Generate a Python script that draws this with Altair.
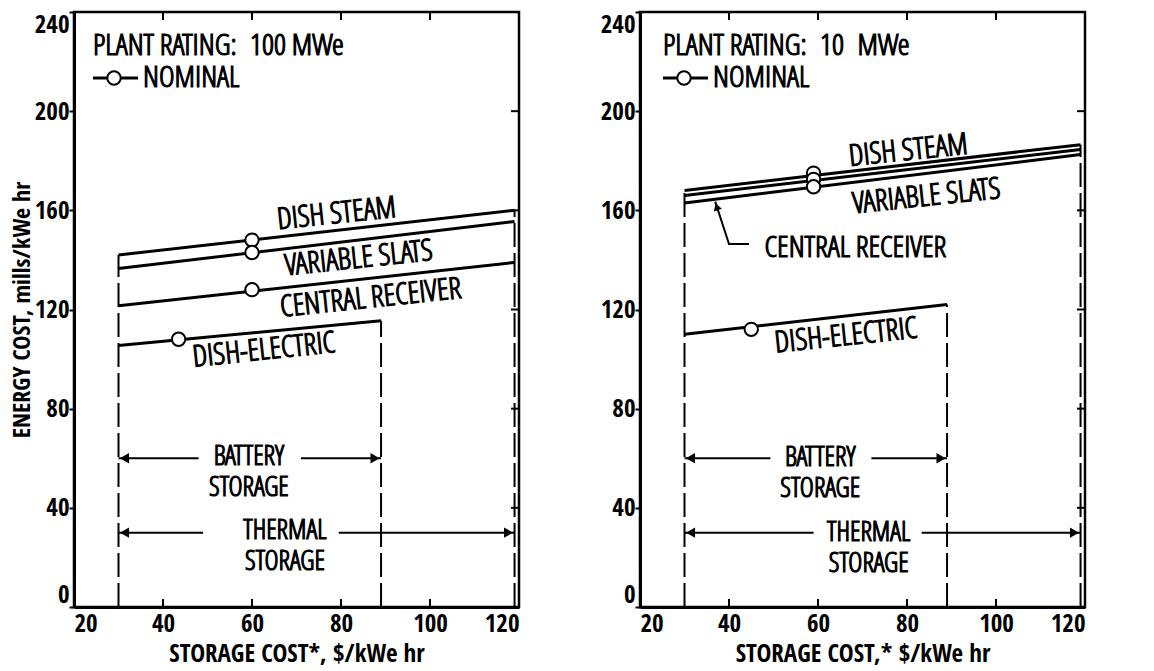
import altair as alt
import pandas as pd

AXIS_FONT = "Open Sans Condensed"
MARK_FONT = "Open Sans Condensed Light, Open Sans Condensed"

X_TICKS = [20, 40, 60, 80, 100, 120]
Y_TICKS = [0, 40, 80, 120, 160, 200, 240]
X_INNER_TICKS = [40, 60, 80, 100]
Y_INNER_TICKS = [40, 80, 120, 160, 200]

# ---------------- 100 MWe panel ----------------
L_SERIES = ["DISH STEAM", "VARIABLE SLATS", "CENTRAL RECEIVER", "DISH-ELECTRIC"]
L_X_START = [30, 30, 30, 30]
L_X_END = [119, 119, 119, 89]
L_Y_START = [142, 136.5, 121.5, 105.5]
L_Y_END = [160, 155.5, 139, 115.5]
L_NOM_X = [60, 60, 60, 43.5]
L_NOM_Y = [148, 143, 128, 108]
L_LIMIT_X = [30, 89, 119]
L_LIMIT_TOP = [142, 115.5, 160]
L_RANGE_TEXT = ["BATTERY\nSTORAGE", "THERMAL\nSTORAGE"]
L_RANGE_Y = [60, 30]
L_RANGE_FROM = [30, 30]
L_RANGE_TO = [89, 119]
L_GAP_FROM = [48, 49]
L_GAP_TO = [71, 79.5]
L_RANGE_TEXT_X = [59.3, 67.4]
L_RANGE_TEXT_Y = [60.5, 30.5]
L_ROT_LABELS = ["DISH STEAM", "VARIABLE SLATS", "CENTRAL RECEIVER", "DISH-ELECTRIC"]
L_ROT_X = [79, 84, 86.7, 62.7]
L_ROT_Y = [158.5, 140.5, 124.5, 103.5]

# ---------------- 10 MWe panel ----------------
R_SERIES = ["DISH STEAM", "CENTRAL RECEIVER", "VARIABLE SLATS", "DISH-ELECTRIC"]
R_X_START = [30, 30, 30, 30]
R_X_END = [119, 119, 119, 89]
R_Y_START = [168, 166, 163, 110]
R_Y_END = [186.5, 184.5, 182.5, 122]
R_NOM_X = [59, 59, 59, 45]
R_NOM_Y = [175, 172.5, 169.5, 112]
R_LIMIT_X = [30, 89, 119]
R_LIMIT_TOP = [168, 122, 186.5]
R_RANGE_TEXT = ["BATTERY\nSTORAGE", "THERMAL\nSTORAGE"]
R_RANGE_Y = [60, 30]
R_RANGE_FROM = [30, 30]
R_RANGE_TO = [89, 119]
R_GAP_FROM = [49.3, 59]
R_GAP_TO = [72, 83.3]
R_RANGE_TEXT_X = [60.5, 71.4]
R_RANGE_TEXT_Y = [60, 30]
R_ROT_LABELS = ["DISH STEAM", "VARIABLE SLATS", "DISH-ELECTRIC"]
R_ROT_X = [80.3, 84.4, 66.3]
R_ROT_Y = [184, 165.5, 109.3]
R_FLAT_LABELS = ["CENTRAL RECEIVER"]
R_FLAT_X = [68.4]
R_FLAT_Y = [144.8]
R_LEADER_X = [44.5, 40, 36.9]
R_LEADER_Y = [146.4, 146.4, 163.5]

W, H = 445, 595


def panel(series, xs, xe, ys, ye, nx, ny, limx, limtop, rtext, ry, rfrom, rto,
          gfrom, gto, rtx, rty, rot_lab, rot_x, rot_y, rating, x_title, y_title,
          lx, flat=None, leader=None):
    xsc = alt.Scale(domain=[20, 120], nice=False, zero=False)
    ysc = alt.Scale(domain=[0, 240], nice=False, zero=False)
    x_axis = alt.Axis(values=X_TICKS, title=x_title, tickSize=0, labelFlush=True,
                      labelFont=AXIS_FONT, labelFontSize=25, labelPadding=4,
                      labelColor="black", titleFont=AXIS_FONT, titleFontSize=25,
                      titleColor="black", titlePadding=5, domainColor="black",
                      domainWidth=3, grid=False)
    yargs = dict(values=Y_TICKS, tickSize=5, tickWidth=2, tickColor="black",
                 labelFlush=True, labelFont=AXIS_FONT, labelFontSize=25,
                 labelPadding=0, labelColor="black", domainColor="black",
                 domainWidth=3, grid=False)
    if y_title:
        y_axis = alt.Axis(title=y_title, titleFont=AXIS_FONT, titleFontSize=24,
                          titleColor="black", titlePadding=0, **yargs)
    else:
        y_axis = alt.Axis(title=None, **yargs)
    X = lambda f="x": alt.X(f + ":Q", scale=xsc, axis=x_axis)
    Y = lambda f="y": alt.Y(f + ":Q", scale=ysc, axis=y_axis)

    txt = dict(font=MARK_FONT, fontSize=30, color="black", stroke="black",
               strokeWidth=1.2, baseline="middle")
    rtxt = dict(txt, fontSize=27)

    lines_df = pd.DataFrame({"series": series + series, "x": xs + xe, "y": ys + ye})
    lines = alt.Chart(lines_df).mark_line(color="black", strokeWidth=3).encode(
        x=X(), y=Y(), detail="series:N")

    lim_df = pd.DataFrame({"x": limx, "y": [0] * len(limx), "y2": limtop})
    limits = alt.Chart(lim_df).mark_rule(color="black", strokeWidth=2,
                                         strokeDash=[24, 6]).encode(
        x=X(), y=Y(), y2="y2:Q")

    seg_df = pd.DataFrame({"x": rfrom + gto, "x2": gfrom + rto, "y": ry + ry})
    segs = alt.Chart(seg_df).mark_rule(color="black", strokeWidth=2).encode(
        x=X(), x2="x2:Q", y=Y())
    head_l = alt.Chart(pd.DataFrame({"x": rfrom, "y": ry})).mark_point(
        shape="triangle-left", filled=True, color="black", size=110, opacity=1,
        xOffset=6).encode(x=X(), y=Y())
    head_r = alt.Chart(pd.DataFrame({"x": rto, "y": ry})).mark_point(
        shape="triangle-right", filled=True, color="black", size=110, opacity=1,
        xOffset=-6).encode(x=X(), y=Y())
    rtext_df = pd.DataFrame({"t": rtext, "x": rtx, "y": rty})
    range_text = alt.Chart(rtext_df).mark_text(
        lineBreak="\n", lineHeight=31, align="center", **rtxt).encode(
        x=X(), y=Y(), text="t:N")

    nom_df = pd.DataFrame({"series": series, "x": nx, "y": ny})
    noms = alt.Chart(nom_df).mark_point(shape="circle", filled=True, fill="white",
                                        stroke="black", strokeWidth=2, size=180,
                                        opacity=1).encode(x=X(), y=Y())

    rot_df = pd.DataFrame({"t": rot_lab, "x": rot_x, "y": rot_y})
    rot = alt.Chart(rot_df).mark_text(angle=354, align="center", **txt).encode(
        x=X(), y=Y(), text="t:N")

    bx = alt.Chart(pd.DataFrame({"x": X_INNER_TICKS})).mark_rule(
        color="black", strokeWidth=2).encode(x=X(), y=alt.value(H), y2=alt.value(H - 8))
    tx = alt.Chart(pd.DataFrame({"x": X_INNER_TICKS})).mark_rule(
        color="black", strokeWidth=2).encode(x=X(), y=alt.value(0), y2=alt.value(8))
    ry_t = alt.Chart(pd.DataFrame({"y": Y_INNER_TICKS})).mark_rule(
        color="black", strokeWidth=2).encode(y=Y(), x=alt.value(W), x2=alt.value(W - 8))

    one = pd.DataFrame({"t": [rating], "n": ["NOMINAL"]})
    leg_t = alt.Chart(one).mark_text(align="left", **txt).encode(
        x=alt.value(lx), y=alt.value(34), text="t:N")
    leg_line = alt.Chart(one).mark_rule(color="black", strokeWidth=3).encode(
        x=alt.value(lx), x2=alt.value(lx + 45), y=alt.value(66))
    leg_pt = alt.Chart(one).mark_point(shape="circle", filled=True, fill="white",
                                       stroke="black", strokeWidth=2, size=180,
                                       opacity=1).encode(x=alt.value(lx + 21),
                                                         y=alt.value(66))
    leg_n = alt.Chart(one).mark_text(align="left", **txt).encode(
        x=alt.value(lx + 50), y=alt.value(66), text="n:N")

    layers = [lines, limits, segs, head_l, head_r, range_text, noms, rot, bx, tx,
              ry_t, leg_t, leg_line, leg_pt, leg_n]
    if flat is not None:
        fl, fx, fy = flat
        layers.append(alt.Chart(pd.DataFrame({"t": fl, "x": fx, "y": fy})).mark_text(
            align="center", **txt).encode(x=X(), y=Y(), text="t:N"))
    if leader is not None:
        lxs, lys = leader
        ldf = pd.DataFrame({"x": lxs, "y": lys, "o": list(range(len(lxs)))})
        layers.append(alt.Chart(ldf).mark_line(color="black", strokeWidth=2).encode(
            x=X(), y=Y(), order="o:Q"))
        layers.append(alt.Chart(pd.DataFrame({"x": [lxs[-1]], "y": [lys[-1]]})).mark_point(
            shape="triangle-up", filled=True, color="black", size=70, opacity=1,
            angle=342, yOffset=5, xOffset=1.5).encode(x=X(), y=Y()))
    return alt.layer(*layers).properties(width=W, height=H)


left = panel(L_SERIES, L_X_START, L_X_END, L_Y_START, L_Y_END, L_NOM_X, L_NOM_Y,
             L_LIMIT_X, L_LIMIT_TOP, L_RANGE_TEXT, L_RANGE_Y, L_RANGE_FROM, L_RANGE_TO,
             L_GAP_FROM, L_GAP_TO, L_RANGE_TEXT_X, L_RANGE_TEXT_Y, L_ROT_LABELS,
             L_ROT_X, L_ROT_Y, "PLANT RATING:\u00a0 100 MWe", "STORAGE COST*, $/kWe hr",
             "ENERGY COST, mills/kWe hr", 19)
right = panel(R_SERIES, R_X_START, R_X_END, R_Y_START, R_Y_END, R_NOM_X, R_NOM_Y,
              R_LIMIT_X, R_LIMIT_TOP, R_RANGE_TEXT, R_RANGE_Y, R_RANGE_FROM, R_RANGE_TO,
              R_GAP_FROM, R_GAP_TO, R_RANGE_TEXT_X, R_RANGE_TEXT_Y, R_ROT_LABELS,
              R_ROT_X, R_ROT_Y, "PLANT RATING:\u00a0 10\u00a0 MWe", "STORAGE COST,* $/kWe hr",
              None, 23, flat=(R_FLAT_LABELS, R_FLAT_X, R_FLAT_Y),
              leader=(R_LEADER_X, R_LEADER_Y))

chart = alt.hconcat(left, right, spacing=77).properties(
    padding={"left": 1, "top": 1, "right": 5, "bottom": 0}
).configure_view(stroke="black", strokeWidth=2.5)

chart.save("out.html", embed_options={"renderer": "svg", "actions": False})
